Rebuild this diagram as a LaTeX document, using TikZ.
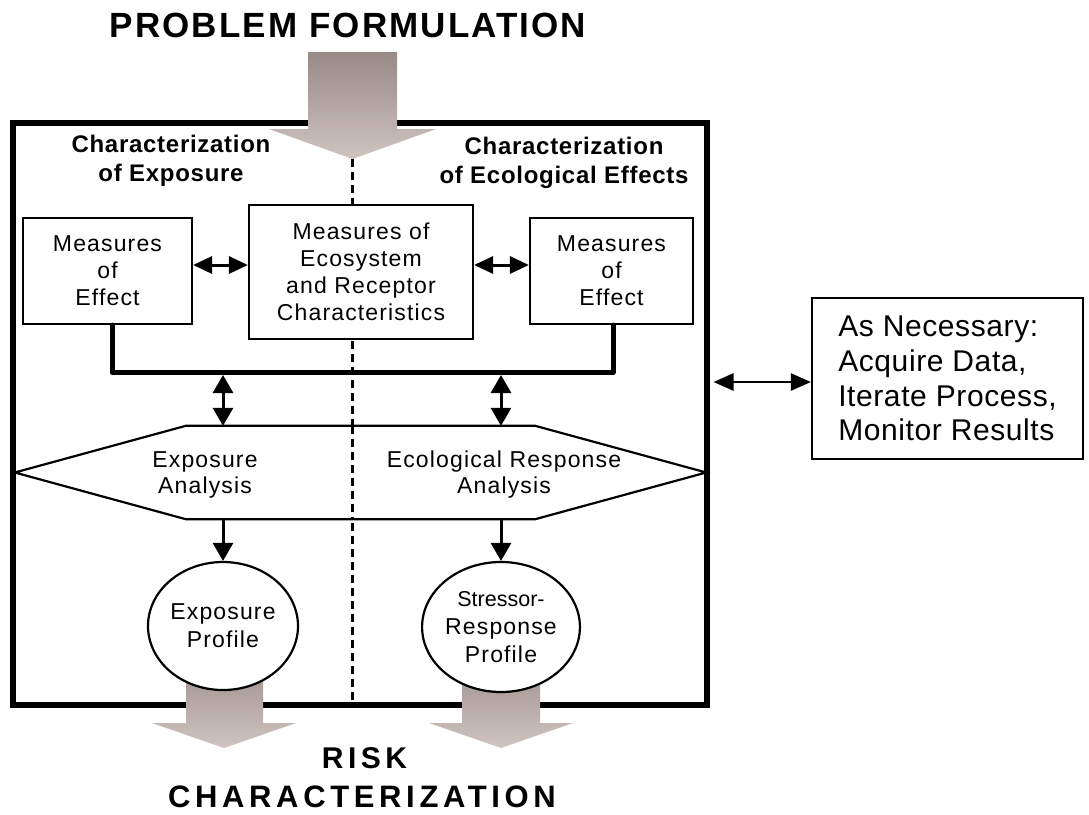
\documentclass[tikz,border=0pt]{standalone}
\usepackage{fontspec}
\setmainfont{Liberation Sans}
\newfontfamily\bxf[LetterSpace=5]{Liberation Sans}
\newfontfamily\plainf{Liberation Sans}
\newfontfamily\hdf[LetterSpace=3]{Liberation Sans}
\newfontfamily\ttlf[LetterSpace=6]{Liberation Sans}
\newfontfamily\rkf[LetterSpace=15]{Liberation Sans}
\newfontfamily\sdf[LetterSpace=2]{Liberation Sans}
\usetikzlibrary{arrows.meta,shapes.geometric}
\definecolor{arrtop}{RGB}{152,138,133}
\definecolor{arrbot}{RGB}{208,196,193}
\begin{document}
\begin{tikzpicture}[x=1pt,y=-1pt,
  box/.style={draw,line width=2.2pt,fill=white,inner sep=0pt,align=center,
    font=\bxf\fontsize{23}{27}\selectfont},
  ell/.style={ellipse,draw,line width=2.2pt,fill=white,inner sep=0pt,align=center,
    font=\bxf\fontsize{23}{28}\selectfont},
  txt/.style={inner sep=0pt,align=center,font=\bxf\fontsize{23}{26}\selectfont},
  hd/.style={inner sep=0pt,align=center,font=\hdf\bfseries\fontsize{24}{29}\selectfont},
  dbl/.style={line width=3pt,{Triangle[length=19pt,width=17pt]}-{Triangle[length=19pt,width=17pt]}},
  dblv/.style={line width=3pt,{Triangle[length=18pt,width=20pt]}-{Triangle[length=18pt,width=20pt]}},
  sgl/.style={line width=3pt,-{Triangle[length=18pt,width=20pt]}},
  sidearr/.style={line width=2.5pt,{Triangle[length=20pt,width=17pt]}-{Triangle[length=20pt,width=17pt]}},
  bus/.style={line width=5pt,line cap=round,line join=round},
  divider/.style={line width=2.8pt,dash pattern=on 8pt off 5pt},
  bigarrow/.style={top color=arrtop,bottom color=arrbot,draw=none}
]
\useasboundingbox (0,0) rectangle (1089,814);

% title
\node[anchor=base,inner sep=0pt,font=\ttlf\bfseries\fontsize{35}{40}\selectfont] (title) at (348,37) {PROBLEM FORMULATION};

% frame
\node[draw,line width=6.5pt,minimum width=694,minimum height=582,inner sep=0pt] (frame) at (360,414) {};

% divider
\coordinate (ttip) at (352.5,159);
\coordinate (fbot) at (352.5,705);
\draw[divider] (ttip) -- (fbot);

% big arrows
\shade[bigarrow] (308,52) -- (397,52) -- (397,129) -- (436,129) -- (ttip) -- (269,129) -- (308,129) -- cycle;
\shade[bigarrow] (186,650) -- (263,650) -- (263,723) -- (296,723) -- (224,748) -- (152,723) -- (186,723) -- cycle;
\shade[bigarrow] (462,650) -- (540,650) -- (540,723) -- (573,723) -- (501,748) -- (429,723) -- (462,723) -- cycle;

% headings
\node[hd] (hl) at (171,161) {Characterization\\of Exposure};
\node[hd] (hr) at (564,163) {Characterization\\of Ecological Effects};

% boxes
\node[box,minimum width=169,minimum height=106] (lbox) at (107.5,271) {Measures\\of\\Effect};
\node[box,minimum width=224,minimum height=134] (cbox) at (361,272) {Measures of\\Ecosystem\\and Receptor\\Characteristics};
\node[box,minimum width=163,minimum height=106] (rbox) at (611.5,271) {Measures\\of\\Effect};

\coordinate (ya) at (0,265);
\draw[dbl] (lbox.east |- ya) -- (cbox.west |- ya);
\draw[dbl] (cbox.east |- ya) -- (rbox.west |- ya);

% bus
\coordinate (bl) at (112,372.5);
\coordinate (br) at (613,372.5);
\draw[bus] (lbox.south -| bl) -- (bl) -- (br) -- (rbox.south -| br);

% hexagon
\node[minimum width=691,minimum height=93,inner sep=0pt] (hex) at (360.5,472.5) {};
\draw[line width=2.2pt,fill=white] (hex.west) -- ([xshift=171pt]hex.north west) -- ([xshift=-171pt]hex.north east)
  -- (hex.east) -- ([xshift=-171pt]hex.south east) -- ([xshift=171pt]hex.south west) -- cycle;
\draw[divider] (352.5,426) -- (352.5,519);
\draw[line width=2.2pt] ([xshift=171pt]hex.north west) -- ([xshift=-171pt]hex.north east);
\draw[line width=2.2pt] ([xshift=171pt]hex.south west) -- ([xshift=-171pt]hex.south east);
\node[txt] (hexl) at (205,475) {Exposure\\Analysis};
\node[txt] (hexr) at (504,475) {Ecological Response\\Analysis};

\coordinate (va) at (223,0);
\coordinate (vb) at (501,0);
\draw[dblv] ([yshift=-2.5pt]bl -| va) -- (hex.north -| va);
\draw[dblv] ([yshift=-2.5pt]bl -| vb) -- (hex.north -| vb);

% ellipses
\node[ell,minimum width=150,minimum height=128] (lell) at (223,626) {Exposure\\Profile};
\node[ell,minimum width=152,minimum height=130] (rell) at (501,627) {{\plainf\fontsize{21.5}{28}\selectfont Stressor-}\\Response\\Profile};
\draw[sgl] (hex.south -| va) -- (lell.north);
\draw[sgl] (hex.south -| vb) -- (rell.north);

% bottom text
\node[anchor=base,inner sep=0pt,font=\rkf\bfseries\fontsize{30}{36}\selectfont] (risk) at (364.5,768) {RISK};
\node[anchor=base,inner sep=0pt,font=\rkf\bfseries\fontsize{31}{36}\selectfont] (charz) at (362,807) {CHARACTERIZATION};

% side box
\node[draw,line width=2.2pt,minimum width=271,minimum height=161,inner sep=0pt,align=left,
  font=\sdf\fontsize{30}{34.7}\selectfont] (side) at (947.5,378.5) {As Necessary:\\Acquire Data,\\Iterate Process,\\Monitor Results};
\coordinate (yb) at (0,382);
\draw[sidearr,shorten <=3.25pt] (frame.east |- yb) -- (side.west |- yb);
\end{tikzpicture}
\end{document}
